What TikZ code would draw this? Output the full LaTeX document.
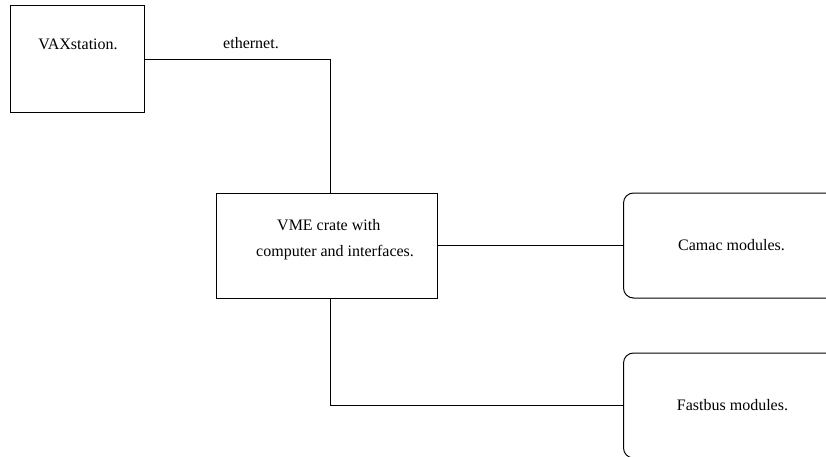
\documentclass[tikz,border=0pt]{standalone}
\usepackage{fontspec}
\setmainfont{Liberation Serif}
\begin{document}
\begin{tikzpicture}[x=1pt,y=-1pt,
  every node/.style={font=\fontsize{16}{26}\selectfont, inner sep=0pt},
  plainbox/.style={draw, line width=1pt},
  modbox/.style={draw, line width=1pt, rounded corners=10pt},
  wire/.style={line width=0.9pt}]
\useasboundingbox (0,0) rectangle (826,456);
% host workstation
\node[plainbox, minimum width=134, minimum height=107, anchor=north west] (vax) at (10,5) {};
\node (vaxt) at (78,44) {VAXstation.};
% VME crate
\node[plainbox, minimum width=221, minimum height=105, anchor=north west] (vme) at (216,193) {};
\node[align=left, anchor=west] (vmet) at (256,240) {\hspace{21pt}VME crate with\\computer and interfaces.};
% module crates, running off the right edge
\node[modbox, minimum width=216, minimum height=105, anchor=west] (camac) at (623,245.5) {Camac modules.};
\node[modbox, minimum width=218, minimum height=105, anchor=west] (fast) at (623,405.5) {Fastbus modules.};
% links
\node (eth) at (251,43) {ethernet.};
\draw[wire] (vax.east) -| ([xshift=3.5]vme.north);
\draw[wire] (vme.east |- camac.west) -- (camac.west);
\draw[wire] ([xshift=3.5]vme.south) |- (fast.west);
\end{tikzpicture}
\end{document}
